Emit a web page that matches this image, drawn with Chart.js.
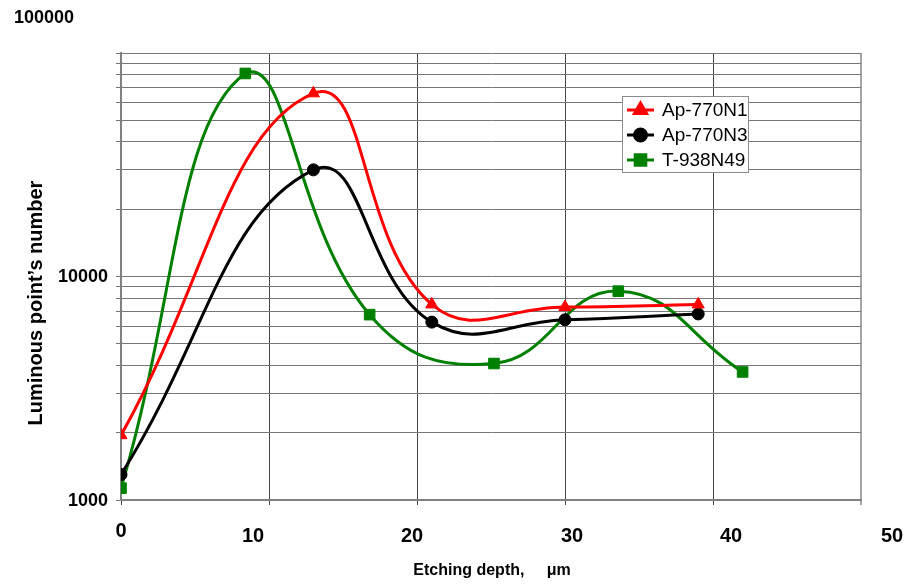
<!DOCTYPE html>
<html>
<head>
<meta charset="utf-8">
<script src="https://cdn.jsdelivr.net/npm/chart.js@4"></script>
<style>
  html, body { margin: 0; padding: 0; background: #fff; }
  #chart { display: block; }
</style>
</head>
<body>
<canvas id="chart" width="906" height="584"></canvas>
<script>
// Etching depth (µm) and luminous point counts per sample
const depthN1 = [0, 13, 21, 30, 39];
const countN1 = [1950, 66000, 7500, 7300, 7500];
const depthN3 = [0, 13, 21, 30, 39];
const countN3 = [1300, 30000, 6250, 6400, 6800];
const depthN49 = [0, 8.4, 16.8, 25.2, 33.6, 42];
const countN49 = [1130, 81000, 6750, 4080, 8600, 3740];

const seriesNames = ['Ap-770N1', 'Ap-770N3', 'T-938N49'];

// Axis ticks
const xTicks = [0, 10, 20, 30, 40, 50];
const yDecades = [1000, 10000, 100000];
const yGridValues = [];
[1000, 10000].forEach(d => { for (let k = 1; k < 10; k++) yGridValues.push(d * k); });
yGridValues.push(100000);

// label nudges in px, the labels do not sit exactly on their grid lines
const xLabelShift = [0, -16, -5, 7, 18, 31];
const yLabelShift = [[0, 0], [0, 0], [-34, -36]];

const pts = (xs, ys) => xs.map((x, i) => ({ x, y: ys[i] }));

const styles = [
  { color: '#ff0000', pointStyle: 'triangle', radius: 7 },
  { color: '#000000', pointStyle: 'circle', radius: 6 },
  { color: '#008000', pointStyle: 'rect', radius: 7.5 }
];

const axisText = {
  id: 'axisText',
  afterDraw(chart) {
    const ctx = chart.ctx;
    const xs = chart.scales.x, ys = chart.scales.y;
    ctx.save();
    ctx.fillStyle = '#000';

    ctx.font = 'bold 20px "Liberation Sans", Arial, sans-serif';
    ctx.textAlign = 'center';
    ctx.textBaseline = 'middle';
    xTicks.forEach((v, i) => {
      ctx.fillText(String(v), xs.getPixelForValue(v) + xLabelShift[i], i === 0 ? 531 : 536);
    });

    ctx.font = 'bold 18px "Liberation Sans", Arial, sans-serif';
    ctx.textAlign = 'right';
    yDecades.forEach((v, i) => {
      ctx.fillText(String(v), 108 + yLabelShift[i][0], ys.getPixelForValue(v) + yLabelShift[i][1] + 1);
    });

    ctx.font = 'bold 16px "Liberation Sans", Arial, sans-serif';
    ctx.textAlign = 'center';
    ctx.fillText('Etching depth,     \u03bcm', 492, 571);

    ctx.translate(36, 303);
    ctx.rotate(-Math.PI / 2);
    ctx.font = 'bold 20px "Liberation Sans", Arial, sans-serif';
    ctx.fillText('Luminous point\u2019s number', 0, 0);
    ctx.restore();
  }
};

const legendBox = {
  id: 'legendBox',
  afterDatasetsDraw(chart) {
    const ctx = chart.ctx;
    ctx.save();
    ctx.fillStyle = '#fff';
    ctx.fillRect(622, 96, 127, 76);
    ctx.strokeStyle = '#8c8c8c';
    ctx.lineWidth = 1;
    ctx.strokeRect(622.5, 96.5, 126, 76);
    ctx.font = '19px "Liberation Sans", Arial, sans-serif';
    ctx.textAlign = 'left';
    ctx.textBaseline = 'middle';
    chart.data.datasets.forEach((ds, i) => {
      const y = 110 + i * 25;
      const st = styles[i];
      ctx.strokeStyle = st.color;
      ctx.lineWidth = 3;
      ctx.beginPath();
      ctx.moveTo(627, y);
      ctx.lineTo(654, y);
      ctx.stroke();
      ctx.fillStyle = st.color;
      Chart.helpers.drawPoint(ctx, { pointStyle: st.pointStyle, radius: st.radius, rotation: 0, borderWidth: 1 }, 640.5, y);
      ctx.fillStyle = '#000';
      ctx.fillText(ds.label, 662, y + 1);
    });
    ctx.restore();
  }
};

const datasets = [pts(depthN1, countN1), pts(depthN3, countN3), pts(depthN49, countN49)].map((data, i) => ({
  label: seriesNames[i],
  data,
  borderColor: styles[i].color,
  backgroundColor: styles[i].color,
  borderWidth: 3,
  pointStyle: styles[i].pointStyle,
  pointRadius: styles[i].radius,
  pointBorderWidth: 1,
  tension: 0.45,
  fill: false
}));

new Chart(document.getElementById('chart'), {
  type: 'line',
  data: { datasets },
  plugins: [axisText, legendBox],
  options: {
    responsive: false,
    animation: false,
    devicePixelRatio: 1,
    layout: { padding: { top: 53, right: 45, left: 0, bottom: 0 } },
    plugins: { legend: { display: false }, tooltip: { enabled: false } },
    scales: {
      x: {
        type: 'linear',
        min: 0,
        max: 50,
        afterBuildTicks: s => { s.ticks = xTicks.map(v => ({ value: v })); },
        afterFit: s => { s.height = 84; },
        ticks: { display: false },
        grid: {
          color: ctx => (ctx.tick && ctx.tick.value === 50 ? '#a6a6a6' : '#454545'),
          lineWidth: ctx => (ctx.tick && ctx.tick.value === 50 ? 2 : 1),
          tickLength: 5,
          drawTicks: true
        },
        border: { color: '#808080', width: 2 }
      },
      y: {
        type: 'logarithmic',
        min: 1000,
        max: 100000,
        afterBuildTicks: s => { s.ticks = yGridValues.map(v => ({ value: v })); },
        afterFit: s => { s.width = 121; },
        ticks: { display: false },
        grid: { color: '#777777', lineWidth: 1, tickLength: 5, drawTicks: true },
        border: { color: '#808080', width: 2 }
      }
    }
  }
});
</script>
</body>
</html>
